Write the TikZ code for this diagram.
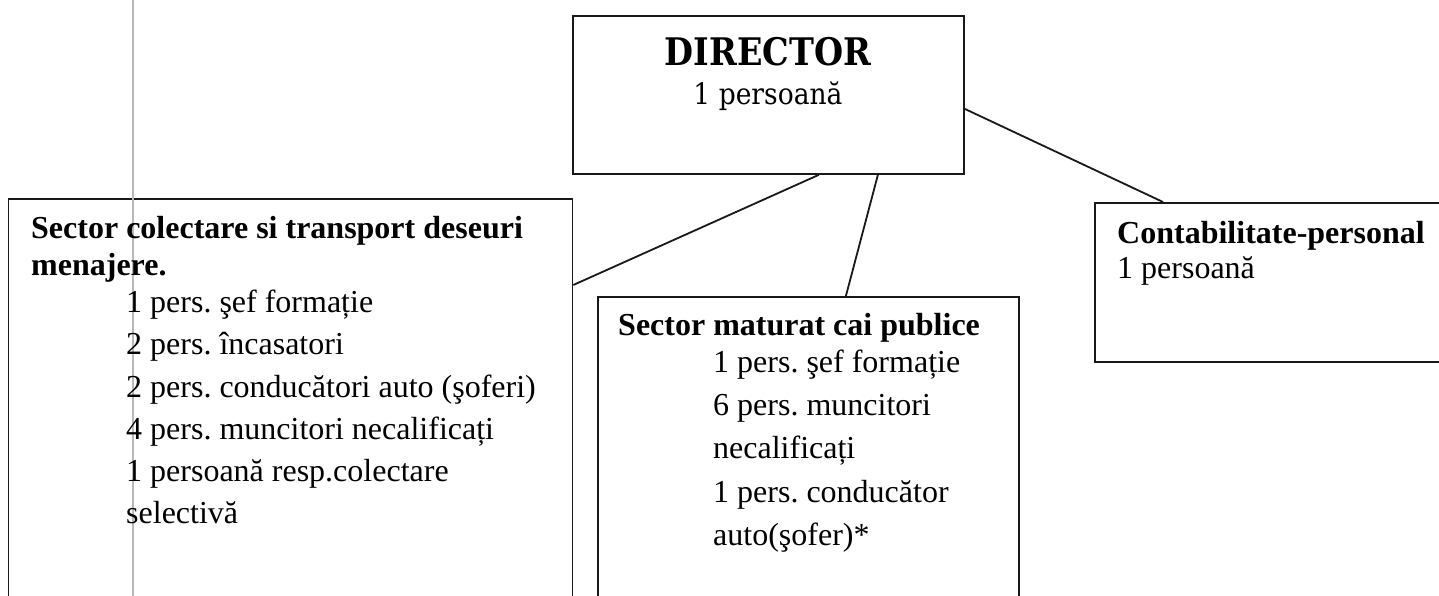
\documentclass[tikz,border=0pt]{standalone}
\usepackage{fontspec}
\usepackage{graphicx}
\setmainfont{Liberation Serif}
\newfontfamily\dirfont{DejaVu Serif}
\frenchspacing
\tikzset{
  box/.style={draw=black!90, line width=1.8pt, anchor=north west, inner sep=0pt},
  conn/.style={draw=black!90, line width=1.8pt},
  ttl/.style={anchor=base west, inner sep=0pt, font=\fontsize{32}{38}\selectfont\bfseries},
  itm/.style={anchor=base west, inner sep=0pt, font=\fontsize{32}{38}\selectfont},
}
\begin{document}
\begin{tikzpicture}[x=1pt,y=-1pt]
\clip (0,0) rectangle (1439,596);
\fill[white] (0,0) rectangle (1439,596);
% boxes
\node[box, minimum width=391pt, minimum height=158pt] (dir) at (572,15) {};
\node[box, minimum width=564pt, minimum height=420pt] (left) at (7.5,198) {};
\node[box, minimum width=421pt, minimum height=320pt] (mid) at (597,296) {};
\node[box, minimum width=360pt, minimum height=159pt] (cont) at (1094,202) {};
% scan line
\draw[gray!55, line width=1.2pt] (133,0) -- (133,596);
% connectors
\draw[conn] ([xshift=50.5pt]dir.south) -- ([yshift=-87pt]left.north east);
\draw[conn] ([xshift=109.5pt]dir.south) -- ([xshift=37.5pt]mid.north);
\draw[conn] ([yshift=-14pt]dir.east) -- ([xshift=69pt]cont.north west);
% director text
\node[anchor=base, inner sep=0pt, font=\dirfont\fontsize{38}{42}\selectfont\bfseries] (dt) at (768,66) {\scalebox{0.88}[1]{DIRECTOR}};
\node[anchor=base, inner sep=0pt, font=\dirfont\fontsize{29.5}{33}\selectfont] (dp) at (768,105) {\scalebox{0.9}[1]{1 persoană}};
% left box text
\node[ttl] (lt1) at (31,238) {Sector colectare si transport deseuri};
\node[ttl] (lt2) at (31,275) {menajere.};
\node[itm] (l1) at (126,312) {1 pers. şef formație};
\node[itm] (l2) at (126,354) {2 pers. încasatori};
\node[itm] (l3) at (126,397) {2 pers. conducători auto (şoferi)};
\node[itm] (l4) at (126,439) {4 pers. muncitori necalificați};
\node[itm] (l5) at (126,481) {1 persoană resp.colectare};
\node[itm] (l6) at (126,523) {selectivă};
% middle box text
\node[ttl] (mt) at (618,335) {Sector maturat cai publice};
\node[itm] (m1) at (713,372) {1 pers. şef formație};
\node[itm] (m2) at (713,415) {6 pers. muncitori};
\node[itm] (m3) at (713,458) {necalificați};
\node[itm] (m4) at (713,502) {1 pers. conducător};
\node[itm] (m5) at (713,545) {auto(şofer)*};
% contabilitate text
\node[ttl] (ct) at (1117,243) {Contabilitate-personal};
\node[itm] (c1) at (1117,278) {1 persoană};
\end{tikzpicture}
\end{document}
